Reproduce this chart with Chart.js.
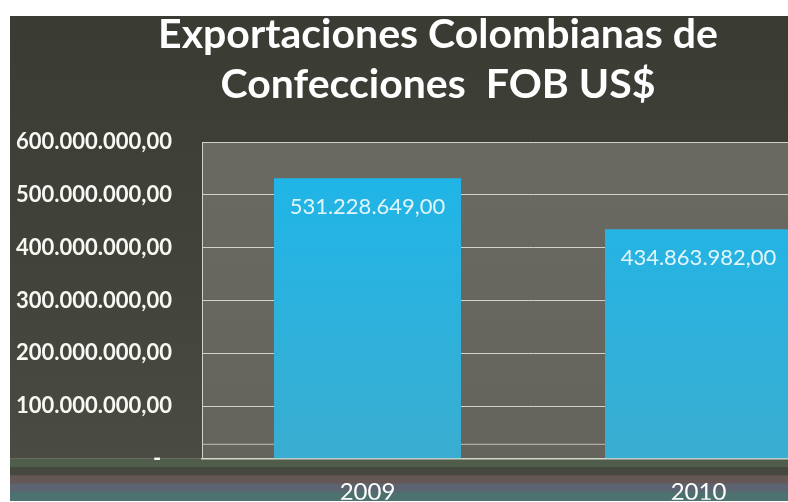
<!DOCTYPE html>
<html>
<head>
<meta charset="utf-8">
<title>Exportaciones Colombianas de Confecciones</title>
<script src="https://cdn.jsdelivr.net/npm/chart.js@4.4.1/dist/chart.umd.min.js"></script>
<style>
  html, body { margin: 0; padding: 0; background: #fff; overflow: hidden; }
  #wrap { position: absolute; left: 0; top: 0; width: 872px; height: 502px; }
</style>
</head>
<body>
<div id="wrap"><canvas id="chart" width="872" height="502"></canvas></div>
<script>
// FOB exports in US$, one bar per year
const years = ['2009', '2010'];
const exportsFob = [531228649, 434863982];
const yMax = 600000000;
const yStep = 100000000;

// 531228649 -> "531.228.649,00", zero shows as a dash like the accounting format
function formatUsd(v) {
    if (v === 0) return '-  ';
    const [whole, dec] = v.toFixed(2).split('.');
    return whole.replace(/\B(?=(\d{3})+(?!\d))/g, '.') + ',' + dec;
}

Chart.defaults.font.family = 'Lato, "Open Sans", sans-serif';

// dark slide panel, grey back wall and the striped floor band
const backdrop = {
    id: 'backdrop',
    beforeDraw(chart) {
        const { ctx, width, height, chartArea: a } = chart;
        ctx.save();
        ctx.fillStyle = '#ffffff';
        ctx.fillRect(0, 0, width, height);

        const bg = ctx.createLinearGradient(0, 16, 0, a.bottom);
        bg.addColorStop(0, '#3a3c34');
        bg.addColorStop(0.6, '#42443b');
        bg.addColorStop(1, '#4a4c44');
        ctx.fillStyle = bg;
        ctx.fillRect(10, 16, width - 10, a.bottom - 16);

        const bands = ['#4f5d4a', '#46473f', '#665757', '#5b6470', '#4d716e'];
        const bandH = (500 - a.bottom) / bands.length;
        bands.forEach((c, i) => {
            ctx.fillStyle = c;
            ctx.fillRect(10, a.bottom + i * bandH, width - 10, bandH + 1);
        });

        const wall = ctx.createLinearGradient(0, a.top, 0, a.bottom);
        wall.addColorStop(0, '#6b6a62');
        wall.addColorStop(1, '#64645c');
        ctx.fillStyle = wall;
        ctx.fillRect(a.left, a.top, a.right - a.left, a.bottom - a.top);

        // front edge of the floor
        ctx.strokeStyle = 'rgba(215,215,205,0.8)';
        ctx.lineWidth = 1;
        ctx.beginPath();
        ctx.moveTo(a.left, a.bottom - 14.5);
        ctx.lineTo(a.right, a.bottom - 14.5);
        ctx.stroke();
        ctx.restore();
    }
};

// value written inside the top of each bar
const valueLabels = {
    id: 'valueLabels',
    afterDatasetsDraw(chart) {
        const { ctx } = chart;
        const meta = chart.getDatasetMeta(0);
        ctx.save();
        ctx.font = '22px Lato, "Open Sans", sans-serif';
        ctx.fillStyle = '#e2f5fa';
        ctx.textAlign = 'center';
        ctx.textBaseline = 'middle';
        meta.data.forEach((bar, i) => {
            ctx.fillText(formatUsd(exportsFob[i]), bar.x, bar.y + 29);
        });
        ctx.restore();
    }
};

const ctx = document.getElementById('chart').getContext('2d');
new Chart(ctx, {
    type: 'bar',
    data: {
        labels: years,
        datasets: [{
            data: exportsFob,
            backgroundColor(c) {
                const a = c.chart.chartArea;
                if (!a) return '#27b2e0';
                const g = c.chart.ctx.createLinearGradient(0, a.top, 0, a.bottom);
                g.addColorStop(0, '#1cb6ea');
                g.addColorStop(1, '#3aadd0');
                return g;
            },
            borderWidth: 0,
            barPercentage: 0.565,
            categoryPercentage: 1
        }]
    },
    options: {
        responsive: false,
        animation: false,
        layout: { padding: { left: 12, right: 8, top: 0, bottom: 0 } },
        plugins: {
            legend: { display: false },
            tooltip: { enabled: false },
            title: {
                display: true,
                text: ['Exportaciones Colombianas de', 'Confecciones  FOB US$'],
                color: '#ffffff',
                font: { size: 41, weight: 'bold', lineHeight: 1.22 },
                padding: { top: 10, bottom: 32 }
            }
        },
        scales: {
            x: {
                grid: { display: false },
                border: { display: true, color: '#d6d6ce', width: 1.5 },
                ticks: { color: '#ffffff', font: { size: 24 }, padding: 11 },
                afterFit(s) { s.height = 41; }
            },
            y: {
                min: 0,
                max: yMax,
                grid: { color: '#d2d2ca', lineWidth: 1, drawTicks: false },
                border: { display: true, color: '#d2d2ca' },
                ticks: {
                    stepSize: yStep,
                    color: '#f8f8f4',
                    font: { size: 22, weight: 'bold' },
                    padding: 30,
                    callback: v => formatUsd(v)
                },
                afterFit(s) { s.width = 190; }
            }
        }
    },
    plugins: [backdrop, valueLabels]
});
</script>
</body>
</html>
